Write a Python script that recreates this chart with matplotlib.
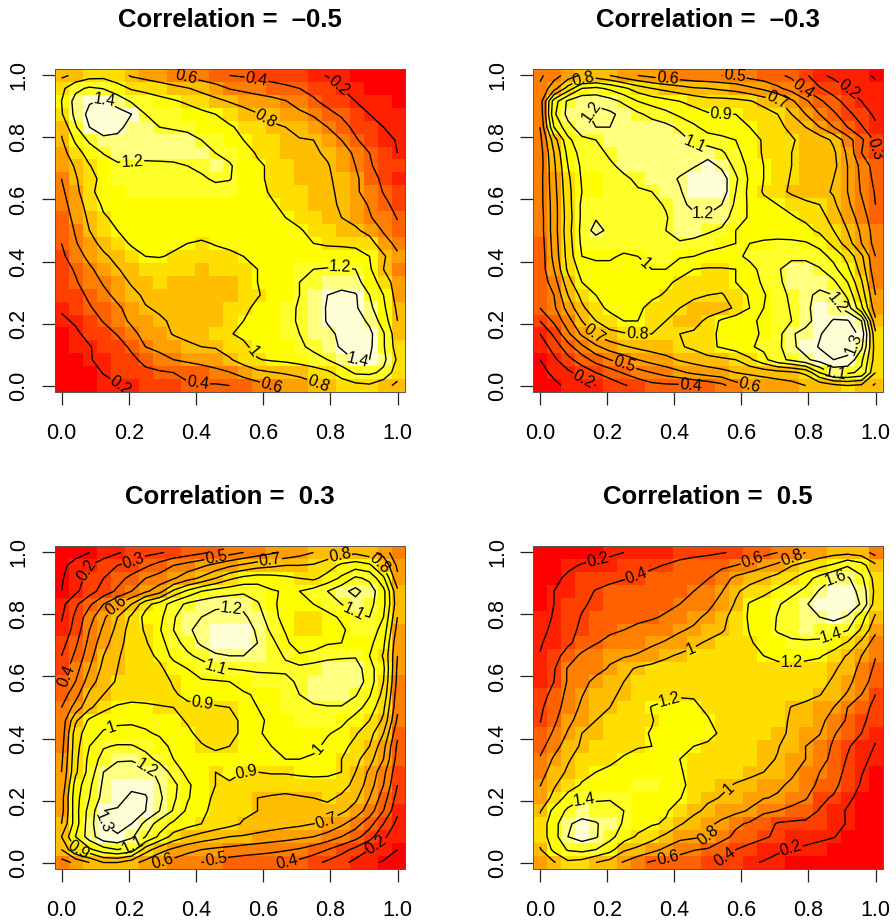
# four bivariate density panels, image + contour

import matplotlib
matplotlib.use("Agg")
import matplotlib.pyplot as plt
from matplotlib.colors import ListedColormap, Normalize
import numpy as np

plt.rcParams['font.family'] = ['Liberation Sans', 'DejaVu Sans']

# density x 100, rows run from y=1 (top) down to y=0, columns from x=0 to x=1
dens_neg05 = [
    [76,84,92,94,88,78,74,70,62,56,50,45,40,38,34,32,30,28,24,19,15,11,8,7,6],
    [95,115,123,119,108,98,93,89,86,81,75,68,59,55,51,48,44,40,36,30,20,17,11,9,8],
    [100,127,138,142,132,118,114,107,102,97,90,85,79,74,70,66,61,52,42,36,28,20,17,13,11],
    [98,125,146,150,148,140,120,117,113,109,105,100,93,87,81,75,70,64,58,44,38,28,20,17,14],
    [84,118,140,148,146,132,126,120,118,116,112,107,102,96,89,83,80,75,69,60,46,36,27,20,16],
    [78,103,124,136,134,128,125,126,128,126,120,115,107,100,94,88,84,81,80,73,60,42,32,24,19],
    [72,92,108,121,125,126,126,127,127,127,126,120,115,108,98,93,87,83,82,78,70,56,40,26,20],
    [68,82,99,110,118,117,116,116,117,120,123,127,122,112,103,97,92,87,84,81,74,60,42,33,25],
    [60,78,93,106,113,114,114,114,114,115,118,122,121,112,102,98,92,87,84,82,76,64,48,36,21],
    [56,74,96,107,112,113,113,113,113,113,114,115,113,109,105,98,93,88,84,82,78,63,52,39,28],
    [52,70,88,103,108,110,111,111,111,111,111,111,111,108,105,102,96,90,85,82,79,70,58,45,34],
    [48,66,84,98,104,108,110,110,110,109,109,109,109,107,106,105,100,94,88,84,80,74,62,50,39],
    [44,62,80,90,100,105,108,108,107,106,106,106,107,109,109,108,106,102,94,88,84,83,74,58,44],
    [40,58,74,85,93,102,105,106,103,100,98,101,103,105,107,108,108,108,100,97,96,96,88,68,55],
    [36,50,66,77,85,93,100,101,98,94,92,95,97,100,102,105,107,109,110,112,112,107,100,83,63],
    [32,42,56,70,79,86,90,90,90,88,87,88,91,96,100,108,110,114,120,121,122,120,103,80,60],
    [29,38,50,62,72,82,87,88,86,85,84,84,86,92,100,106,112,120,123,126,132,128,108,93,68],
    [25,32,44,55,65,75,83,85,83,82,82,83,86,94,99,104,112,120,128,140,145,142,120,100,71],
    [22,28,38,48,57,67,79,82,82,82,82,84,90,97,103,108,114,122,128,142,149,143,125,104,76],
    [17,22,32,41,53,63,72,78,82,83,83,85,93,100,108,111,115,122,126,142,150,150,136,110,80],
    [12,17,25,33,41,55,66,74,81,84,85,89,99,103,109,110,114,120,128,134,145,152,145,122,86],
    [9,13,19,26,33,43,60,67,72,77,80,81,88,97,105,108,112,117,124,133,142,150,144,122,90],
    [7,10,19,24,30,36,45,51,60,64,68,73,78,88,99,102,104,108,114,120,132,141,140,125,97],
    [5,8,12,21,25,31,36,38,40,44,48,53,59,68,75,79,82,85,89,96,108,123,124,116,88],
    [3,5,8,13,19,24,28,31,35,38,39,38,40,46,53,60,64,70,76,82,90,94,97,86,76],
]

dens_neg03 = [
    [48,56,64,72,74,70,64,60,57,54,53,52,51,50,49,46,44,42,38,32,22,18,15,12,9],
    [52,66,84,100,102,98,92,85,80,77,74,71,70,68,66,62,58,52,46,38,31,25,20,16,12],
    [54,95,112,118,118,114,108,100,96,93,90,87,84,84,83,81,76,72,62,52,42,34,26,20,15],
    [52,98,113,117,123,122,117,112,107,103,98,94,91,90,90,89,85,80,70,60,50,42,33,25,18],
    [50,90,107,115,120,120,117,116,115,113,108,102,96,94,93,90,87,82,78,70,60,50,40,31,22],
    [47,75,97,108,110,113,116,117,117,116,114,108,105,103,100,94,89,85,81,77,76,68,55,42,28],
    [45,70,93,104,106,112,115,116,116,116,114,114,116,112,103,95,89,85,80,78,78,72,58,40,31],
    [45,68,90,102,103,108,113,115,116,116,116,119,124,118,107,97,90,85,80,76,78,73,60,47,35],
    [46,67,88,101,101,104,108,112,115,116,121,127,128,125,112,98,90,85,79,74,74,70,60,48,37],
    [46,66,87,100,101,103,107,109,110,114,119,126,130,126,110,97,89,84,78,72,73,69,60,49,39],
    [46,65,86,102,102,104,105,106,107,111,118,122,123,120,108,98,93,90,87,84,80,72,62,52,40],
    [45,65,85,102,109,108,107,107,107,109,116,118,119,116,104,99,96,93,91,88,84,76,66,55,43],
    [45,65,86,103,114,107,105,106,105,110,114,113,112,108,100,98,97,96,95,93,88,80,70,58,45],
    [44,64,85,102,103,103,103,103,104,106,109,108,103,101,100,100,101,102,102,101,97,87,75,60,46],
    [43,63,84,100,101,101,99,100,103,103,101,100,98,98,98,102,105,107,108,108,104,97,87,72,50],
    [44,60,82,94,98,98,97,97,100,100,94,90,89,89,90,97,103,109,114,114,111,103,92,76,52],
    [43,55,76,90,93,95,96,96,95,92,88,84,84,85,90,94,102,108,114,117,117,112,100,81,56],
    [43,50,70,83,90,94,96,95,92,89,83,82,80,79,85,91,99,106,112,118,122,120,108,86,60],
    [40,48,64,78,87,92,94,92,87,83,80,76,73,75,82,90,100,105,111,118,124,123,115,92,64],
    [30,42,56,70,80,86,90,90,84,80,76,75,83,92,96,99,101,105,110,117,124,131,131,120,72],
    [20,32,48,62,72,77,79,80,80,80,80,82,87,92,95,98,101,106,119,123,129,136,136,127,82],
    [14,24,36,48,58,65,69,72,74,76,79,82,88,91,95,99,102,107,118,124,131,137,134,122,85],
    [10,18,27,35,44,50,55,60,64,67,71,74,76,78,80,88,97,107,112,118,124,130,128,112,85],
    [7,12,18,24,30,35,41,46,50,54,58,62,65,67,70,72,74,76,78,82,100,113,112,108,80],
    [5,8,12,15,20,24,29,33,37,38,38,40,43,47,56,60,62,64,66,70,73,77,80,78,68],
]

dens_pos03 = [
    [5,7,10,14,19,23,27,29,32,35,38,42,46,50,54,58,62,66,70,74,77,78,74,66,52],
    [8,13,20,26,30,33,38,44,50,54,58,63,68,72,76,78,80,80,81,85,92,95,92,78,58],
    [9,16,23,30,36,43,50,54,59,66,72,80,88,93,95,94,92,90,88,94,102,112,108,92,62],
    [10,18,26,34,42,50,58,66,82,92,100,104,106,108,106,101,99,100,104,110,117,123,115,103,72],
    [17,28,38,50,60,70,87,94,105,112,115,117,118,117,111,103,95,96,100,106,110,116,113,103,74],
    [19,32,46,58,70,82,93,97,109,116,120,124,125,122,115,104,96,91,91,96,102,107,110,100,70],
    [22,34,50,62,73,85,91,99,110,118,124,128,129,127,118,108,99,91,91,93,98,105,106,96,66],
    [26,38,53,66,76,85,89,96,106,114,122,128,129,128,120,113,103,92,93,99,100,103,103,92,62],
    [30,42,56,70,79,84,87,92,103,108,113,118,120,120,118,114,109,102,105,107,108,109,100,89,60],
    [34,46,60,73,80,82,84,88,95,100,104,109,110,111,112,112,112,113,114,116,117,115,104,92,58],
    [38,50,65,76,81,82,83,86,91,96,99,99,100,103,105,106,107,112,115,117,118,117,105,90,57],
    [45,56,72,80,82,83,84,85,89,92,94,95,96,99,101,103,105,110,115,117,117,111,101,87,54],
    [50,64,78,87,92,95,93,91,90,88,88,89,90,94,100,103,105,107,108,109,109,104,96,82,52],
    [53,78,92,97,98,99,98,96,93,89,86,85,87,92,99,101,103,104,105,105,103,96,90,78,48],
    [54,85,96,101,103,102,101,99,97,92,87,85,87,92,99,102,103,103,103,101,97,91,84,70,42],
    [56,86,100,109,111,111,107,103,98,95,91,88,90,94,97,100,102,103,103,97,93,87,80,63,38],
    [58,87,103,114,119,119,114,107,100,97,94,94,94,96,96,98,100,100,98,94,90,83,74,60,36],
    [60,88,104,120,124,126,124,117,106,97,93,90,92,90,90,91,91,92,93,92,90,80,68,53,33],
    [62,94,108,122,127,128,127,120,113,102,94,90,89,87,85,84,84,85,85,86,84,77,65,50,30],
    [66,96,110,124,127,132,131,122,112,101,94,88,86,83,80,79,78,79,80,82,78,72,60,45,26],
    [66,96,114,130,131,133,130,120,109,98,93,86,84,82,80,79,79,79,79,76,72,66,55,40,22],
    [70,95,116,130,133,130,117,105,98,94,90,86,83,79,77,75,73,72,70,68,62,54,44,30,17],
    [80,100,115,127,129,122,110,98,86,80,76,73,70,69,67,65,64,62,60,56,50,44,34,22,13],
    [70,90,98,106,110,106,85,74,68,63,60,58,57,55,54,53,51,49,45,40,34,27,20,15,10],
    [56,62,70,80,80,74,66,60,56,53,50,48,45,44,43,41,40,37,33,28,23,17,12,9,6],
]

dens_pos05 = [
    [3,4,5,7,11,16,20,23,26,29,32,34,36,39,42,47,54,60,68,80,88,93,94,90,72],
    [4,7,15,22,26,28,31,34,37,41,46,50,53,56,60,66,76,84,99,107,115,123,138,128,104],
    [6,14,25,30,33,36,39,42,46,50,53,56,59,70,85,93,99,108,118,132,147,160,163,144,112],
    [10,20,28,34,41,45,47,49,52,54,56,60,70,79,97,107,115,124,135,144,162,170,172,152,115],
    [14,20,30,38,43,47,50,52,54,56,60,66,74,88,102,122,129,138,147,158,170,175,173,158,110],
    [15,21,33,41,47,51,54,56,58,62,68,75,84,95,107,123,130,141,146,154,160,166,158,128,97],
    [15,24,35,43,50,57,60,64,68,72,78,83,90,98,108,121,130,142,148,150,149,146,141,117,85],
    [18,28,37,47,59,65,68,72,77,82,88,96,103,107,112,118,126,132,136,137,136,130,118,95,70],
    [21,33,48,65,72,76,78,82,88,97,103,107,110,112,114,117,120,123,125,124,122,112,98,80,61],
    [24,38,62,69,74,82,94,103,107,109,111,113,114,115,116,116,116,116,115,114,111,103,91,74,56],
    [28,40,62,74,85,94,100,105,109,111,113,114,115,115,116,116,115,114,113,111,107,97,86,69,51],
    [32,46,66,79,90,97,103,107,112,115,118,119,118,116,115,115,114,113,111,108,101,90,78,60,40],
    [36,52,68,84,94,100,105,110,121,125,126,122,118,116,114,113,112,110,99,93,88,80,60,47,35],
    [39,56,75,88,100,105,109,113,119,127,130,131,121,115,113,111,109,105,98,90,84,74,57,44,32],
    [45,63,82,100,104,109,113,117,121,128,130,133,129,115,110,108,105,103,98,88,81,62,50,40,23],
    [53,72,90,103,108,112,115,119,120,128,130,120,115,112,110,108,104,101,93,80,72,57,43,28,19],
    [62,83,98,108,113,116,122,125,128,128,120,113,112,110,108,106,104,99,89,80,67,55,38,25,15],
    [71,90,103,114,120,124,128,130,133,133,122,113,110,107,105,104,100,93,83,74,60,47,36,21,12],
    [79,98,110,122,127,130,132,135,136,134,126,112,108,103,99,95,89,83,77,68,56,45,31,18,9],
    [88,105,128,138,137,139,136,133,131,128,121,110,103,99,92,87,81,78,68,62,44,38,24,14,7],
    [98,126,144,152,148,144,140,133,127,122,112,104,96,88,85,78,63,60,55,47,39,28,18,10,5],
    [108,132,158,165,162,150,138,128,122,118,102,92,84,76,64,57,50,38,36,37,30,25,19,9,4],
    [108,132,160,168,162,146,130,117,107,95,85,83,80,68,55,48,43,36,29,26,23,21,13,7,3],
    [98,125,142,146,140,128,103,95,86,76,68,61,58,46,40,34,26,22,19,17,15,10,6,4,2],
    [85,98,116,112,100,91,78,66,57,52,48,46,44,38,34,22,19,16,13,10,8,6,4,2,1],
]

x_grid = np.linspace(0, 1, 25)
y_grid = np.linspace(0, 1, 25)
heat = ["#FF0000", "#FF2000", "#FF4000", "#FF6000", "#FF8000", "#FFA000",
        "#FFBF00", "#FFDF00", "#FFFF00", "#FFFF2A", "#FFFF80", "#FFFFD5"]
cmap = ListedColormap(heat)

panels = [
    ("Correlation =  \u20130.5", dens_neg05, 1.5, [0.2, 0.4, 0.6, 0.8, 1, 1.2, 1.4],
     [(.22, .005), (.41, .03), (.65, .0), (.77, .02), (.56, .1), (.21, .73), (.83, .38), (.13, .926),
      (.88, .09), (.6, .85), (.37, .985), (.58, .985), (.82, .96)]),
    ("Correlation =  \u20130.3", dens_neg03, 1.35, [0.1, 0.2, 0.3, 0.4, 0.5, 0.6, 0.7, 0.8, 0.9, 1, 1.1, 1.2, 1.3],
     [(.13, .02), (.92, .955), (.985, .76), (.79, .97), (.45, .0), (.25, .06), (.58, .995), (.38, .98),
      (.63, .01), (.17, .18), (.71, .93), (.13, .985), (.29, .16), (.54, .875), (.31, .39), (.46, .78),
      (.88, .04), (.15, .89), (.49, .57), (.87, .26), (.92, .14)]),
    ("Correlation =  0.3", dens_pos03, 1.38, [0.1, 0.2, 0.3, 0.4, 0.5, 0.6, 0.7, 0.8, 0.9, 1, 1.1, 1.2, 1.3],
     [(.06, .95), (.94, .05), (.21, .985), (.02, .6), (.67, .01), (.46, .99), (.46, .01), (.16, .83), (.3, .01),
      (.62, .98), (.79, .13), (.83, .985), (.05, .04), (.42, .52), (.55, .295), (.15, .43), (.77, .36),
      (.46, .635), (.87, .81), (.21, .06), (.5, .8), (.25, .3), (.12, .13), (.95, .97)]),
    ("Correlation =  0.5", dens_pos05, 1.8, [0.2, 0.4, 0.6, 0.8, 1, 1.2, 1.4, 1.6],
     [(.17, .985), (.75, .035), (.29, .92), (.55, .02), (.63, .98), (.38, .02), (.75, .985), (.5, .09),
      (.45, .69), (.57, .23), (.38, .55), (.75, .65), (.13, .2), (.87, .73), (.88, .925)]),
]

W, H = 896, 921
# left, top, right, bottom in pixels
boxes = [(54.5, 69, 404.5, 392), (533, 69, 882.5, 392), (54.5, 546, 404.5, 869), (533, 546, 882.5, 869)]

fig = plt.figure(figsize=(W / 100, H / 100), dpi=100)
for (title, dens, zmax, levels, lab_pos), (l, t, r, b) in zip(panels, boxes):
    ax = fig.add_axes([l / W, 1 - b / H, (r - l) / W, (b - t) / H])
    z = np.array(dens)[::-1] / 100.0
    ax.imshow(z, origin='lower', extent=[-1 / 48, 1 + 1 / 48, -1 / 48, 1 + 1 / 48], aspect='auto',
              cmap=cmap, norm=Normalize(0, zmax), interpolation='nearest')
    cs = ax.contour(x_grid, y_grid, z, levels=levels, colors='k', linewidths=1.0)
    ax.clabel(cs, levels, fmt=lambda v: f"{v:g}", fontsize=11.5, inline=True, inline_spacing=1, manual=lab_pos)
    ax.set_xlim(-1 / 48, 1 + 1 / 48)
    ax.set_ylim(-1 / 48, 1 + 1 / 48)
    ticks = [0, 0.2, 0.4, 0.6, 0.8, 1.0]
    ax.set_xticks(ticks)
    ax.set_yticks(ticks)
    ax.set_xticklabels(["0.0", "0.2", "0.4", "0.6", "0.8", "1.0"], fontsize=15.5)
    ax.set_yticklabels(["0.0", "0.2", "0.4", "0.6", "0.8", "1.0"], fontsize=15.5, rotation=90, va='center')
    ax.tick_params(length=9.5, width=0.9, color='#222222')
    ax.tick_params(axis='x', pad=12.5)
    ax.tick_params(axis='y', pad=8.5)
    for s in ax.spines.values():
        s.set_linewidth(0.7)
        s.set_color('#555555')
    fig.text((l + r) / 2 / W, 1 - (t - 49) / H, title, ha='center', va='center', fontsize=18.5, fontweight='bold')

plt.savefig("out.png", dpi=100)
